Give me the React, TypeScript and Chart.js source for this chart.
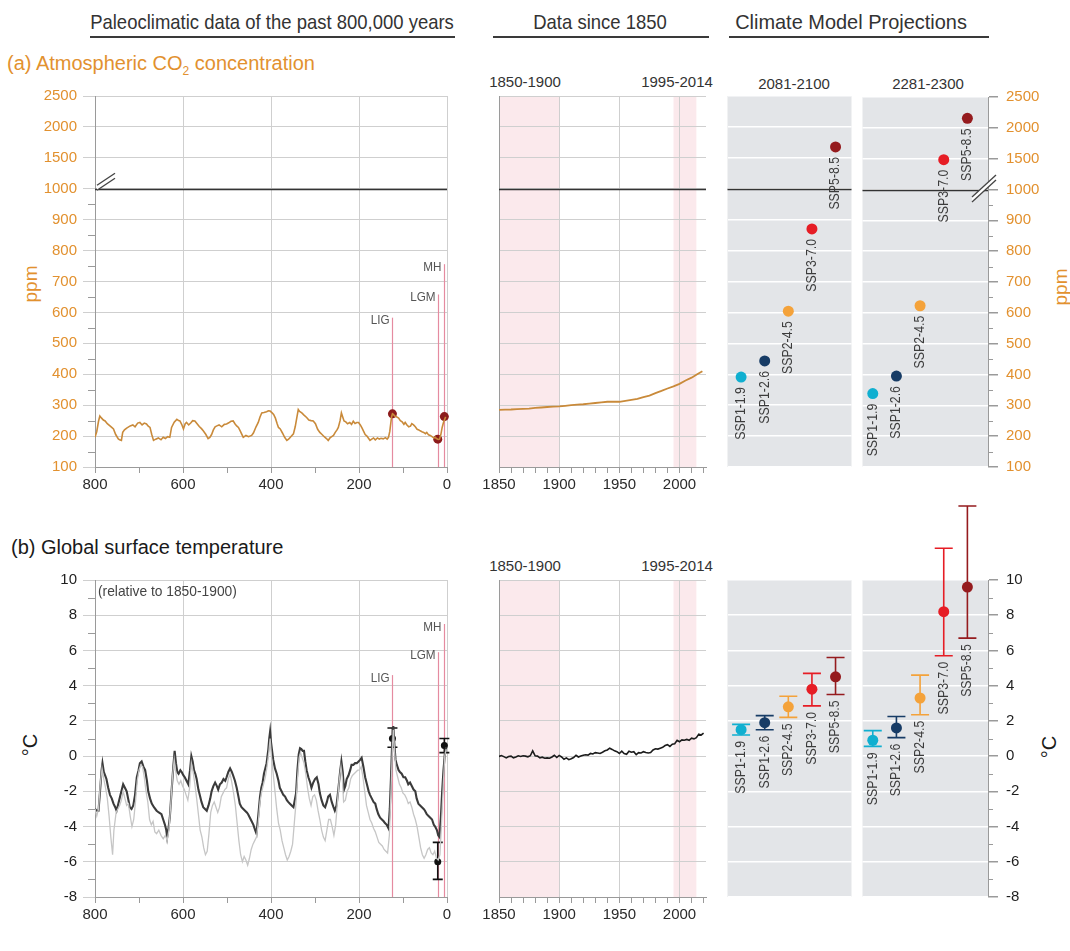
import React, { useEffect, useRef } from 'react';
import { Chart, registerables } from 'chart.js';

Chart.register(...registerables);

const FONT = '"Liberation Sans", Arial, Helvetica, sans-serif';
Chart.defaults.font.family = FONT;

/* ------------------------------------------------------------------ */
/* Values                                                              */
/* ------------------------------------------------------------------ */

// Atmospheric CO2 over the last 800 kyr: [thousand years before present, ppm]
const co2Paleo: [number, number][] = [
  [800, 196], [796, 215], [792, 248], [789, 265], [785, 258], [781, 252], [777, 249], [772, 240],
  [766, 233], [762, 228], [758, 223], [753, 205], [747, 191], [744, 188], [740, 186], [737, 212],
  [733, 220], [728, 226], [720, 233], [714, 236], [709, 230], [703, 242], [698, 244], [693, 236],
  [688, 242], [683, 239], [679, 232], [675, 228], [671, 205], [667, 186], [662, 190], [656, 194],
  [650, 188], [645, 196], [640, 192], [635, 198], [630, 196], [626, 228], [620, 245], [614, 254],
  [610, 250], [607, 249], [603, 238], [599, 223], [595, 240], [592, 244], [587, 236], [582, 243],
  [578, 250], [573, 249], [568, 240], [563, 231], [558, 224], [554, 217], [548, 205], [543, 192],
  [539, 196], [535, 205], [531, 220], [527, 230], [523, 233], [518, 236], [512, 230], [506, 238],
  [501, 239], [496, 243], [491, 248], [486, 249], [482, 240], [478, 233], [474, 228], [470, 217],
  [466, 205], [463, 196], [457, 202], [451, 198], [444, 202], [440, 210], [434, 230], [429, 244],
  [425, 262], [421, 275], [416, 276], [410, 279], [406, 282], [402, 281], [398, 276], [394, 270],
  [390, 258], [386, 240], [383, 228], [379, 223], [374, 210], [369, 196], [364, 186], [360, 190],
  [355, 198], [349, 207], [345, 230], [341, 262], [338, 286], [335, 280], [330, 275], [325, 268],
  [319, 260], [314, 252], [309, 250], [304, 249], [299, 240], [294, 222], [289, 212], [284, 205],
  [279, 198], [274, 192], [270, 186], [266, 194], [262, 198], [258, 202], [254, 212], [250, 220],
  [247, 228], [243, 250], [240, 275], [237, 262], [234, 249], [230, 246], [226, 240], [221, 244],
  [217, 238], [213, 248], [209, 241], [205, 244], [201, 244], [197, 236], [193, 226], [190, 217],
  [186, 205], [182, 200], [178, 192], [175, 186], [171, 190], [167, 194], [163, 188], [158, 194],
  [154, 190], [150, 193], [145, 191], [140, 195], [136, 190], [133, 196], [130, 215], [128, 239],
  [126, 262], [124, 272], [122, 270], [118, 264], [114, 262], [110, 258], [106, 250], [102, 246],
  [98, 238], [95, 244], [91, 236], [87, 230], [83, 232], [80, 240], [76, 236], [72, 230],
  [68, 222], [64, 220], [61, 217], [57, 214], [53, 212], [49, 208], [46, 212], [42, 204],
  [38, 202], [34, 198], [30, 194], [27, 196], [24, 192], [20, 189], [17, 190], [14, 205],
  [11, 228], [8, 244], [5, 255], [3, 262],
];

// Global surface temperature over the last 800 kyr, first reconstruction: [kyr BP, °C]
const tempPaleoA: [number, number][] = [
  [800, -3.0], [796, -3.1], [792, -3.1], [788, -1.8], [785, -0.8], [783, -0.4], [780, -0.9], [777, -1.1],
  [774, -1.3], [770, -1.8], [766, -2.2], [762, -2.4], [758, -2.7], [754, -2.9], [751, -3.1], [747, -2.7],
  [743, -2.3], [739, -1.9], [736, -1.6], [732, -1.8], [728, -2.0], [724, -2.5], [721, -2.9], [717, -3.0],
  [713, -2.8], [709, -2.2], [705, -1.2], [701, -0.8], [698, -0.4], [694, -0.3], [690, -0.6], [686, -0.8],
  [682, -1.4], [679, -2.0], [675, -2.4], [671, -2.7], [666, -2.9], [660, -3.1], [655, -3.2], [649, -3.3],
  [645, -3.6], [641, -3.9], [638, -4.2], [636, -4.6], [633, -4.1], [630, -3.5], [626, -2.0], [622, -0.6],
  [619, 0.3], [616, -0.4], [613, -0.9], [610, -1.0], [606, -0.8], [603, -0.9], [599, -1.1], [596, -1.2],
  [592, -1.4], [588, -1.6], [584, -0.8], [581, 0.0], [578, -0.3], [575, -0.8], [572, -1.0], [569, -1.3],
  [565, -1.9], [561, -2.3], [558, -2.6], [554, -2.9], [550, -3.0], [546, -3.1], [542, -2.8], [538, -2.4],
  [535, -2.0], [531, -1.7], [527, -1.5], [523, -1.7], [520, -1.9], [516, -1.6], [512, -1.5], [508, -1.3],
  [504, -1.4], [501, -1.2], [497, -0.9], [493, -0.7], [489, -0.9], [486, -1.1], [482, -1.4], [478, -1.8],
  [474, -2.3], [471, -2.7], [467, -2.9], [463, -3.0], [459, -3.1], [455, -3.2], [452, -3.3], [448, -3.5],
  [444, -3.7], [440, -3.9], [436, -4.2], [433, -4.4], [429, -3.4], [425, -2.3], [422, -1.8], [419, -1.5],
  [416, -1.0], [413, -0.7], [410, -0.4], [406, 0.4], [404, 1.0], [402, 1.4], [400, 0.8], [397, 0.2],
  [395, -0.2], [391, -0.7], [387, -1.0], [383, -1.4], [380, -1.8], [376, -2.0], [372, -2.2], [368, -2.3],
  [364, -2.5], [361, -2.6], [357, -2.7], [353, -2.8], [349, -2.9], [346, -2.5], [343, -2.1], [340, -0.8],
  [337, 0.1], [334, 0.45], [331, 0.4], [328, 0.3], [325, 0.3], [322, -0.3], [319, -0.8], [315, -1.2],
  [311, -1.5], [308, -1.8], [304, -1.5], [300, -1.3], [296, -1.2], [292, -1.6], [289, -2.1], [285, -2.5],
  [281, -2.8], [277, -2.9], [273, -2.6], [270, -2.3], [266, -2.2], [262, -2.6], [258, -2.9], [255, -3.1],
  [251, -2.8], [247, -1.9], [243, -0.9], [240, -0.3], [237, -0.9], [234, -1.9], [231, -1.7], [228, -1.3],
  [224, -1.1], [220, -0.8], [217, -0.5], [213, -0.5], [209, -0.4], [205, -0.4], [201, -0.3], [197, -0.2],
  [194, -0.1], [190, -0.6], [186, -1.2], [182, -1.6], [178, -2.0], [175, -2.2], [171, -2.4], [167, -2.6],
  [163, -2.7], [160, -3.0], [156, -3.3], [152, -3.5], [148, -3.6], [144, -3.7], [141, -3.8], [137, -3.9],
  [133, -4.1], [130, -3.0], [127, -1.0], [125, 0.5], [122, 1.7], [120, 0.8], [117, -0.2], [114, -0.5],
  [110, -0.8], [107, -0.9], [103, -1.0], [99, -1.2], [95, -1.2], [91, -1.4], [88, -1.6], [84, -1.5],
  [80, -1.7], [76, -1.9], [72, -2.0], [69, -2.4], [65, -2.7], [61, -2.8], [57, -2.9], [53, -3.0],
  [50, -3.1], [46, -3.3], [42, -3.4], [38, -3.5], [34, -3.6], [30, -3.9], [27, -4.0], [23, -4.2],
  [20, -4.5], [17, -4.6], [14, -3.5], [11, -2.0], [8, -0.8], [5, 0.1], [2, 0.5],
];

// Global surface temperature over the last 800 kyr, second reconstruction: [kyr BP, °C]
const tempPaleoB: [number, number][] = [
  [800, -3.0], [796, -3.4], [792, -3.0], [788, -1.6], [784, -0.7], [780, -1.3], [776, -1.8], [772, -2.4],
  [768, -3.4], [764, -4.6], [760, -5.6], [757, -4.2], [752, -3.2], [748, -3.0], [744, -2.8], [740, -2.5],
  [736, -2.0], [732, -2.4], [728, -2.8], [724, -2.7], [720, -3.4], [716, -4.0], [712, -3.6], [708, -2.6],
  [704, -1.4], [700, -0.8], [696, -0.5], [692, -0.6], [688, -1.2], [684, -2.0], [680, -2.6], [676, -3.6],
  [672, -3.9], [668, -3.7], [664, -4.3], [660, -4.4], [655, -4.2], [650, -4.5], [645, -4.7], [640, -4.5],
  [636, -4.8], [632, -4.2], [628, -2.8], [624, -1.2], [620, -0.2], [617, -0.8], [613, -1.4], [609, -1.6],
  [605, -1.4], [601, -1.7], [597, -1.9], [593, -2.2], [589, -2.5], [585, -1.8], [581, -0.4], [577, -0.9],
  [573, -1.6], [569, -2.4], [565, -3.3], [561, -4.2], [557, -4.6], [553, -5.2], [549, -5.6], [545, -5.4],
  [541, -4.4], [537, -3.2], [533, -2.8], [529, -2.6], [525, -2.9], [521, -3.2], [517, -2.9], [513, -2.3],
  [509, -2.1], [505, -1.9], [501, -1.8], [497, -1.3], [493, -1.0], [489, -1.5], [485, -2.1], [481, -2.8],
  [477, -3.8], [473, -4.8], [469, -5.6], [465, -6.0], [461, -5.7], [457, -5.9], [453, -6.2], [449, -5.8],
  [445, -5.3], [441, -5.0], [437, -4.8], [433, -4.6], [429, -3.8], [425, -2.6], [421, -2.0], [417, -1.6],
  [413, -1.2], [409, -0.6], [405, 0.2], [402, 1.0], [399, 0.0], [395, -1.0], [391, -2.0], [387, -3.0],
  [383, -3.8], [379, -4.2], [375, -4.8], [371, -5.2], [367, -5.6], [363, -5.9], [359, -5.7], [355, -5.4],
  [351, -5.0], [347, -3.8], [343, -2.6], [339, -1.0], [336, -0.1], [333, 0.2], [329, -0.1], [325, -0.4],
  [321, -1.0], [317, -1.8], [313, -2.4], [309, -2.8], [305, -2.3], [301, -2.2], [297, -2.5], [293, -3.1],
  [289, -3.6], [285, -4.2], [281, -4.6], [277, -4.8], [273, -4.2], [269, -3.6], [265, -3.6], [261, -4.0],
  [257, -4.5], [253, -3.9], [249, -2.6], [245, -1.4], [241, -0.6], [238, -1.2], [235, -2.6], [231, -2.5],
  [227, -2.0], [223, -1.8], [219, -1.3], [215, -1.1], [211, -1.0], [207, -0.9], [203, -0.8], [199, -0.8],
  [195, -0.6], [191, -1.2], [187, -2.0], [183, -2.8], [179, -3.2], [175, -3.6], [171, -3.8], [167, -4.1],
  [163, -4.3], [159, -4.6], [155, -4.9], [151, -5.0], [147, -5.1], [143, -5.3], [139, -5.4], [135, -5.5],
  [131, -4.5], [127, -1.8], [124, 0.5], [122, 1.5], [119, 0.2], [116, -0.8], [112, -1.2], [108, -1.6],
  [104, -1.8], [100, -2.1], [96, -2.2], [92, -2.4], [88, -2.7], [84, -2.6], [80, -2.9], [76, -3.3],
  [72, -3.6], [68, -4.0], [64, -4.6], [60, -5.2], [56, -5.6], [52, -5.8], [48, -5.6], [44, -5.3],
  [40, -5.2], [36, -5.5], [32, -5.6], [28, -5.4], [24, -5.8], [20, -5.9], [16, -5.6], [12, -3.6],
  [8, -1.4], [5, 0.0], [2, 0.4],
];

// Instrumental era CO2: [year, ppm]
const co2Modern: [number, number][] = [
  [1850, 285], [1855, 285.5], [1860, 286], [1865, 287], [1870, 288], [1875, 289], [1880, 291],
  [1885, 292.5], [1890, 294], [1895, 295], [1900, 296], [1905, 298], [1910, 300], [1915, 301.5],
  [1920, 303], [1925, 305], [1930, 307], [1935, 309], [1940, 311], [1945, 311], [1950, 311],
  [1955, 314], [1960, 317], [1965, 320], [1970, 326], [1975, 331], [1980, 339], [1985, 346],
  [1990, 354], [1995, 361], [2000, 369], [2005, 380], [2010, 389], [2015, 401], [2019, 410],
];

// Instrumental era surface temperature relative to 1850-1900: [year, °C]
const tempModern: [number, number][] = [
  [1850, -0.02], [1852, 0.03], [1854, -0.03], [1856, -0.1], [1858, -0.02], [1860, 0.0], [1862, -0.1],
  [1864, -0.05], [1866, 0.02], [1868, -0.02], [1870, 0.02], [1872, 0.0], [1874, -0.04], [1876, 0.02],
  [1878, 0.3], [1880, 0.02], [1882, 0.0], [1884, -0.1], [1886, -0.06], [1888, -0.12], [1890, -0.1],
  [1892, -0.12], [1894, -0.05], [1896, 0.05], [1898, -0.08], [1900, 0.04], [1902, -0.05], [1904, -0.18],
  [1906, -0.1], [1908, -0.2], [1910, -0.15], [1912, -0.08], [1914, 0.05], [1916, -0.05], [1918, 0.0],
  [1920, 0.05], [1922, 0.08], [1924, 0.06], [1926, 0.15], [1928, 0.12], [1930, 0.2], [1932, 0.18],
  [1934, 0.15], [1936, 0.22], [1938, 0.3], [1940, 0.35], [1942, 0.45], [1944, 0.38], [1946, 0.3],
  [1948, 0.25], [1950, 0.15], [1952, 0.28], [1954, 0.15], [1956, 0.1], [1958, 0.28], [1960, 0.22],
  [1962, 0.25], [1964, 0.08], [1966, 0.2], [1968, 0.18], [1970, 0.25], [1972, 0.2], [1974, 0.18],
  [1976, 0.2], [1978, 0.35], [1980, 0.42], [1982, 0.4], [1984, 0.45], [1986, 0.5], [1988, 0.6],
  [1990, 0.65], [1992, 0.55], [1994, 0.68], [1996, 0.7], [1998, 0.9], [2000, 0.82], [2002, 0.92],
  [2004, 0.9], [2006, 0.95], [2008, 0.9], [2010, 1.02], [2012, 0.98], [2014, 1.05], [2016, 1.25],
  [2018, 1.2], [2020, 1.3],
];

// Past reference periods
const paleoEvents = ['LIG', 'LGM', 'MH'];
const paleoEventKyr = [124, 21, 6];
const paleoEventCo2 = [272, 190, 263];
const paleoEventTemp = [1.0, -6.0, 0.6];
const paleoEventTempLow = [0.5, -7.0, 0.2];
const paleoEventTempHigh = [1.6, -4.9, 1.0];

// Scenario projections
const scenarios = ['SSP1-1.9', 'SSP1-2.6', 'SSP2-4.5', 'SSP3-7.0', 'SSP5-8.5'];
const co2By2100 = [391, 443, 604, 870, 1677];
const co2By2300 = [338, 395, 623, 1484, 2155];
const tempBy2100 = [1.5, 1.9, 2.8, 3.8, 4.5];
const tempBy2100Low = [1.2, 1.5, 2.2, 2.85, 3.5];
const tempBy2100High = [1.8, 2.3, 3.4, 4.7, 5.6];
const tempBy2300 = [0.9, 1.6, 3.3, 8.2, 9.6];
const tempBy2300Low = [0.55, 1.05, 2.35, 5.7, 6.7];
const tempBy2300High = [1.45, 2.25, 4.6, 11.8, 14.2];

// Axis ticks
const paleoTicks = [0, 100, 200, 300, 400, 500, 600, 700, 800];
const modernTicks = [1850, 1860, 1870, 1880, 1890, 1900, 1910, 1920, 1930, 1940, 1950, 1960, 1970, 1980, 1990, 2000, 2010, 2020];
const co2TickPpm = [100, 200, 300, 400, 500, 600, 700, 800, 900, 1000, 1500, 2000, 2500];
const co2MinorPpm = [150, 250, 350, 450, 550, 650, 750, 850, 950];
const tempTicks = [-8, -6, -4, -2, 0, 2, 4, 6, 8, 10];
const tempMinor = [-7, -5, -3, -1, 1, 3, 5, 7, 9];

/* ------------------------------------------------------------------ */
/* Styling                                                             */
/* ------------------------------------------------------------------ */

const GRID = '#cfcfcf';
const AXIS = '#9a9a9a';
const ORANGE = '#e2912f';
const INK = '#2a2a2a';
const PANEL_BG = '#e3e5e8';
const EVENT_LINE = '#e58ba0';
const EVENT_DOT = '#8c1b1b';
const CO2_LINE = '#c98a3a';
const SPAN_FILL = '#fbe9ec';
const SCENARIO_COLORS = ['#10afd0', '#173c66', '#f4a23a', '#e61d25', '#951b1e'];

// Heights up to which the reference-period markers are drawn
const eventTopCo2 = [583, 658, 756];
const eventTopTemp = [4.6, 5.9, 7.5];

// CO2 axis: linear up to 1000 ppm, compressed above
const co2Axis = (v: number) => (v <= 1000 ? v / 100 : 10 + (v - 1000) / 500);
const co2Inverse = (u: number) => (u <= 10 ? u * 100 : 1000 + (u - 10) * 500);

/* ------------------------------------------------------------------ */
/* Plugin for panel decorations                                        */
/* ------------------------------------------------------------------ */

type Decor = {
  fill?: string;
  spans?: { from: number; to: number }[];
  hline?: number;
  breakMark?: { side: 'left' | 'right'; dx: number; dy: number; hx: number; hy: number };
  minorY?: { values: number[]; len: number };
  events?: { x: number[]; top: number[]; names: string[] };
  errors?: { x: number[]; low: number[]; high: number[]; colors: string[]; cap: number };
  labels?: { x: number[]; below: number[]; names: string[]; gap: number };
};

function decor(cfg: Decor) {
  return {
    id: 'decor',
    beforeDraw(chart: any) {
      const { ctx, chartArea: a } = chart;
      const xs = chart.scales.x;
      ctx.save();
      if (cfg.fill) {
        ctx.fillStyle = cfg.fill;
        ctx.fillRect(a.left, a.top, a.right - a.left, a.bottom - a.top);
      }
      (cfg.spans || []).forEach((s) => {
        const x0 = xs.getPixelForValue(s.from);
        const x1 = xs.getPixelForValue(s.to);
        ctx.fillStyle = SPAN_FILL;
        ctx.fillRect(x0, a.top, x1 - x0, a.bottom - a.top);
      });
      ctx.restore();
    },
    beforeDatasetsDraw(chart: any) {
      const { ctx, chartArea: a } = chart;
      const xs = chart.scales.x;
      const ys = chart.scales.y;
      ctx.save();
      if (cfg.hline !== undefined) {
        const y = Math.round(ys.getPixelForValue(cfg.hline)) + 0.5;
        ctx.strokeStyle = '#333';
        ctx.lineWidth = 1.3;
        ctx.beginPath();
        ctx.moveTo(a.left, y);
        ctx.lineTo(a.right, y);
        ctx.stroke();
      }
      if (cfg.events) {
        const e = cfg.events;
        e.x.forEach((v, i) => {
          const x = Math.round(xs.getPixelForValue(v)) + 0.5;
          const yt = ys.getPixelForValue(e.top[i]);
          ctx.strokeStyle = EVENT_LINE;
          ctx.lineWidth = 1.2;
          ctx.beginPath();
          ctx.moveTo(x, a.bottom);
          ctx.lineTo(x, yt);
          ctx.stroke();
          ctx.save();
          ctx.translate(x - 3, yt + 3);
          ctx.scale(0.9, 1);
          ctx.font = `13px ${FONT}`;
          ctx.fillStyle = '#555';
          ctx.textAlign = 'right';
          ctx.textBaseline = 'middle';
          ctx.fillText(e.names[i], 0, 0);
          ctx.restore();
        });
      }
      if (cfg.errors) {
        const e = cfg.errors;
        e.x.forEach((v, i) => {
          const x = xs.getPixelForValue(v);
          const y0 = ys.getPixelForValue(e.low[i]);
          const y1 = ys.getPixelForValue(e.high[i]);
          ctx.strokeStyle = e.colors[i];
          ctx.lineWidth = 1.6;
          ctx.beginPath();
          ctx.moveTo(x, y0);
          ctx.lineTo(x, y1);
          ctx.moveTo(x - e.cap, y0);
          ctx.lineTo(x + e.cap, y0);
          ctx.moveTo(x - e.cap, y1);
          ctx.lineTo(x + e.cap, y1);
          ctx.stroke();
        });
      }
      ctx.restore();
    },
    afterDatasetsDraw(chart: any) {
      if (!cfg.labels) return;
      const { ctx } = chart;
      const xs = chart.scales.x;
      const ys = chart.scales.y;
      const l = cfg.labels;
      ctx.save();
      ctx.font = `14px ${FONT}`;
      ctx.fillStyle = '#3c3c3c';
      ctx.textAlign = 'right';
      ctx.textBaseline = 'middle';
      l.x.forEach((v, i) => {
        const x = xs.getPixelForValue(v);
        const y = ys.getPixelForValue(l.below[i]) + l.gap;
        ctx.save();
        ctx.translate(x, y);
        ctx.rotate(-Math.PI / 2);
        ctx.scale(0.88, 1);
        ctx.fillText(l.names[i], 0, 0);
        ctx.restore();
      });
      ctx.restore();
    },
    afterDraw(chart: any) {
      const { ctx, chartArea: a } = chart;
      const ys = chart.scales.y;
      ctx.save();
      if (cfg.minorY) {
        const right = ys.position === 'right';
        ctx.strokeStyle = AXIS;
        ctx.lineWidth = 1;
        ctx.beginPath();
        cfg.minorY.values.forEach((v) => {
          const y = Math.round(ys.getPixelForValue(v)) + 0.5;
          const x0 = right ? a.right : a.left - cfg.minorY!.len;
          ctx.moveTo(x0, y);
          ctx.lineTo(x0 + cfg.minorY!.len, y);
        });
        ctx.stroke();
      }
      if (cfg.breakMark) {
        const b = cfg.breakMark;
        const cx = (b.side === 'left' ? a.left : a.right) + b.dx;
        const cy = ys.getPixelForValue(co2Axis(1000)) + b.dy;
        ctx.fillStyle = '#ffffff';
        ctx.beginPath();
        ctx.moveTo(cx - b.hx, cy + b.hy + 2.5);
        ctx.lineTo(cx + b.hx, cy - b.hy + 2.5);
        ctx.lineTo(cx + b.hx, cy - b.hy - 2.5);
        ctx.lineTo(cx - b.hx, cy + b.hy - 2.5);
        ctx.closePath();
        ctx.fill();
        ctx.strokeStyle = '#444';
        ctx.lineWidth = 1.3;
        [-2.5, 2.5].forEach((off) => {
          ctx.beginPath();
          ctx.moveTo(cx - b.hx, cy + b.hy + off);
          ctx.lineTo(cx + b.hx, cy - b.hy + off);
          ctx.stroke();
        });
      }
      ctx.restore();
    },
  };
}

/* ------------------------------------------------------------------ */
/* Scales and datasets                                                 */
/* ------------------------------------------------------------------ */

type AxisKind = 'left' | 'plain' | 'panel' | 'right';
const AXIS_WIDTH: Record<AxisKind, number> = { left: 95, plain: 29, panel: 0, right: 82 };

function yScale(kind: AxisKind, min: number, max: number, ticks: number[], label: (v: number) => string, color: string) {
  const showLabels = kind === 'left' || kind === 'right';
  const onPanel = kind === 'panel' || kind === 'right';
  return {
    type: 'linear',
    position: kind === 'right' ? 'right' : 'left',
    min,
    max,
    afterBuildTicks: (s: any) => {
      s.ticks = ticks.map((value) => ({ value }));
    },
    afterFit: (s: any) => {
      s.width = AXIS_WIDTH[kind];
    },
    ticks: {
      display: showLabels,
      color,
      font: { size: 15 },
      padding: kind === 'right' ? 8 : 6,
      callback: (v: any) => label(Number(v)),
    },
    grid: {
      color: onPanel ? '#ffffff' : GRID,
      lineWidth: onPanel ? 1.5 : 1,
      drawTicks: showLabels,
      tickLength: kind === 'right' ? 10 : 12,
      tickColor: kind === 'right' ? AXIS : GRID,
    },
    border: { display: kind !== 'panel', color: AXIS },
  };
}

const co2Y = (kind: AxisKind) =>
  yScale(kind, 1, 13, co2TickPpm.map(co2Axis), (u) => String(Math.round(co2Inverse(u))), ORANGE);
const tempY = (kind: AxisKind) => yScale(kind, -8, 10, tempTicks, (v) => String(v), '#1e1e1e');

function timeX(ticks: number[], isMajor: (v: number) => boolean, min: number, max: number, reverse: boolean) {
  return {
    type: 'linear',
    min,
    max,
    reverse,
    afterBuildTicks: (s: any) => {
      s.ticks = ticks.map((value) => ({ value }));
    },
    afterFit: (s: any) => {
      s.height = 33;
    },
    ticks: {
      autoSkip: false,
      maxRotation: 0,
      color: INK,
      font: { size: 15 },
      padding: 3,
      callback: (v: any) => (isMajor(Number(v)) ? String(v) : ''),
    },
    grid: {
      color: (c: any) => (c.tick && isMajor(c.tick.value) ? GRID : 'rgba(0,0,0,0)'),
      tickColor: AXIS,
      tickLength: 6,
    },
    border: { color: AXIS },
  };
}

const paleoX = () => timeX(paleoTicks, (v) => v % 200 === 0, 0, 800, true);
const modernX = () => timeX(modernTicks, (v) => v % 50 === 0, 1850, 2022, false);
const slotX = (min: number, max: number) => ({ type: 'linear', min, max, display: false });

const lineSet = (data: { x: number; y: number }[], color: string, width: number) => ({
  data,
  showLine: true,
  borderColor: color,
  borderWidth: width,
  pointRadius: 0,
  tension: 0,
  fill: false,
});

const dotSet = (data: { x: number; y: number }[], colors: string | string[], radius: number) => ({
  data,
  showLine: false,
  pointRadius: radius,
  pointBackgroundColor: colors,
  pointBorderWidth: 0,
  borderColor: 'rgba(0,0,0,0)',
  clip: false,
});

function config(datasets: any[], scales: any, padding: any, plugin: any) {
  return {
    type: 'scatter',
    data: { datasets },
    options: {
      responsive: false,
      animation: false,
      devicePixelRatio: 1,
      events: [],
      layout: { padding },
      plugins: { legend: { display: false }, tooltip: { enabled: false } },
      scales,
    },
    plugins: [plugin],
  };
}

const slots = scenarios.map((_, i) => i + 1);

/* ---- panel (a): CO2 ---- */

const makeCo2Paleo = () =>
  config(
    [
      lineSet(co2Paleo.map(([k, p]) => ({ x: k, y: co2Axis(p) })), CO2_LINE, 1.6),
      dotSet(paleoEventKyr.map((k, i) => ({ x: k, y: co2Axis(paleoEventCo2[i]) })), EVENT_DOT, 4.5),
    ],
    { x: paleoX(), y: co2Y('left') },
    { top: 16, right: 13, left: 0, bottom: 0 },
    decor({
      hline: co2Axis(1000),
      breakMark: { side: 'left', dx: 11, dy: -7, hx: 9, hy: 6 },
      minorY: { values: co2MinorPpm.map(co2Axis), len: 7 },
      events: { x: paleoEventKyr, top: eventTopCo2.map(co2Axis), names: paleoEvents },
    })
  );

const makeCo2Modern = () =>
  config(
    [lineSet(co2Modern.map(([y, p]) => ({ x: y, y: co2Axis(p) })), CO2_LINE, 1.8)],
    { x: modernX(), y: co2Y('plain') },
    { top: 16, right: 14, left: 0, bottom: 0 },
    decor({ spans: [{ from: 1850, to: 1900 }, { from: 1995, to: 2014 }], hline: co2Axis(1000) })
  );

const makeCo2Proj = (values: number[], min: number, max: number, right: boolean) =>
  config(
    [dotSet(values.map((v, i) => ({ x: slots[i], y: co2Axis(v) })), SCENARIO_COLORS, 5.5)],
    { x: slotX(min, max), y: co2Y(right ? 'right' : 'panel') },
    { top: 16, right: right ? 0 : 5, left: 5, bottom: 33 },
    decor({
      fill: PANEL_BG,
      hline: co2Axis(1000),
      breakMark: right ? { side: 'right', dx: -4, dy: -1, hx: 12, hy: 11 } : undefined,
      minorY: right ? { values: co2MinorPpm.map(co2Axis), len: 5 } : undefined,
      labels: { x: slots, below: values.map(co2Axis), names: scenarios, gap: 10 },
    })
  );

/* ---- panel (b): temperature ---- */

const makeTempPaleo = () =>
  config(
    [
      lineSet(tempPaleoB.map(([k, t]) => ({ x: k, y: t })), '#c6c6c6', 1.3),
      lineSet(tempPaleoA.map(([k, t]) => ({ x: k, y: t })), '#3b3b3b', 2.1),
      dotSet(paleoEventKyr.map((k, i) => ({ x: k, y: paleoEventTemp[i] })), '#111111', 3.5),
    ],
    { x: paleoX(), y: tempY('left') },
    { top: 16, right: 13, left: 0, bottom: 0 },
    decor({
      minorY: { values: tempMinor, len: 7 },
      events: { x: paleoEventKyr, top: eventTopTemp, names: paleoEvents },
      errors: { x: paleoEventKyr, low: paleoEventTempLow, high: paleoEventTempHigh, colors: ['#111', '#111', '#111'], cap: 5 },
    })
  );

const makeTempModern = () =>
  config(
    [lineSet(tempModern.map(([y, t]) => ({ x: y, y: t })), '#1c1c1c', 1.6)],
    { x: modernX(), y: tempY('plain') },
    { top: 16, right: 14, left: 0, bottom: 0 },
    decor({ spans: [{ from: 1850, to: 1900 }, { from: 1995, to: 2014 }] })
  );

const makeTempProj = (mid: number[], low: number[], high: number[], min: number, max: number, right: boolean) =>
  config(
    [dotSet(mid.map((v, i) => ({ x: slots[i], y: v })), SCENARIO_COLORS, 5.5)],
    { x: slotX(min, max), y: tempY(right ? 'right' : 'panel') },
    { top: 90, right: right ? 0 : 5, left: 5, bottom: 33 },
    decor({
      fill: PANEL_BG,
      minorY: right ? { values: tempMinor, len: 5 } : undefined,
      errors: { x: slots, low, high, colors: SCENARIO_COLORS, cap: 9 },
      labels: { x: slots, below: low, names: scenarios, gap: 6 },
    })
  );

/* ------------------------------------------------------------------ */
/* Components                                                          */
/* ------------------------------------------------------------------ */

type Rect = { x: number; y: number; w: number; h: number };

function ChartCanvas({ rect, make }: { rect: Rect; make: () => any }) {
  const ref = useRef<HTMLCanvasElement | null>(null);
  useEffect(() => {
    const chart = new Chart(ref.current as HTMLCanvasElement, make());
    return () => chart.destroy();
  }, []);
  return (
    <canvas
      ref={ref}
      width={rect.w}
      height={rect.h}
      style={{ position: 'absolute', left: rect.x, top: rect.y, width: rect.w, height: rect.h }}
    />
  );
}

type TxtProps = {
  x: number;
  y: number;
  size: number;
  color?: string;
  anchor?: 'left' | 'center';
  sx?: number;
  rotate?: boolean;
  children: React.ReactNode;
};

function Txt({ x, y, size, color = '#333', anchor = 'center', sx = 1, rotate = false, children }: TxtProps) {
  const transform = rotate
    ? 'translate(-50%, -50%) rotate(-90deg)'
    : anchor === 'center'
    ? `translate(-50%, -50%) scaleX(${sx})`
    : `translate(0, -50%) scaleX(${sx})`;
  return (
    <div
      style={{
        position: 'absolute',
        left: x,
        top: y,
        fontFamily: FONT,
        fontSize: size,
        lineHeight: 1,
        color,
        whiteSpace: 'nowrap',
        transform,
        transformOrigin: anchor === 'left' && !rotate ? 'left center' : 'center center',
      }}
    >
      {children}
    </div>
  );
}

const Rule = ({ x, y, w }: { x: number; y: number; w: number }) => (
  <div style={{ position: 'absolute', left: x, top: y, width: w, height: 2, background: '#3a3a3a' }} />
);

export default function App() {
  return (
    <div style={{ position: 'absolute', left: 0, top: 0, width: 1070, height: 951, background: '#fff', overflow: 'hidden' }}>
      {/* column headers */}
      <Txt x={272} y={21} size={21} sx={0.88}>Paleoclimatic data of the past 800,000 years</Txt>
      <Txt x={600} y={21} size={21} sx={0.88}>Data since 1850</Txt>
      <Txt x={851} y={21} size={21} sx={0.95}>Climate Model Projections</Txt>
      <Rule x={90} y={36} w={365} />
      <Rule x={493} y={36} w={216} />
      <Rule x={729} y={36} w={260} />

      {/* panel (a) */}
      <Txt x={7} y={63} size={20} anchor="left" color={ORANGE}>
        (a) Atmospheric CO<span style={{ fontSize: '0.6em', position: 'relative', top: '0.45em' }}>2</span> concentration
      </Txt>
      <Txt x={525} y={81} size={15}>1850-1900</Txt>
      <Txt x={677} y={81} size={15}>1995-2014</Txt>
      <Txt x={794} y={83} size={15}>2081-2100</Txt>
      <Txt x={928} y={83} size={15}>2281-2300</Txt>
      <Txt x={30} y={284} size={19} color={ORANGE} rotate>ppm</Txt>
      <Txt x={1060} y={287} size={19} color={ORANGE} rotate>ppm</Txt>

      <ChartCanvas rect={{ x: 0, y: 80, w: 460, h: 420 }} make={makeCo2Paleo} />
      <ChartCanvas rect={{ x: 470, y: 80, w: 250, h: 420 }} make={makeCo2Modern} />
      <ChartCanvas rect={{ x: 722, y: 80, w: 135, h: 420 }} make={() => makeCo2Proj(co2By2100, 0.424, 5.676, false)} />
      <ChartCanvas rect={{ x: 857, y: 80, w: 213, h: 420 }} make={() => makeCo2Proj(co2By2300, 0.566, 5.871, true)} />

      {/* panel (b) */}
      <Txt x={11} y={547} size={20} anchor="left" color="#1a1a1a">(b) Global surface temperature</Txt>
      <Txt x={525} y={565} size={15}>1850-1900</Txt>
      <Txt x={677} y={565} size={15}>1995-2014</Txt>
      <Txt x={30} y={745} size={20} color="#1a1a1a" rotate>°C</Txt>
      <Txt x={1049} y={747} size={20} color="#1a1a1a" rotate>°C</Txt>

      <ChartCanvas rect={{ x: 0, y: 564, w: 460, h: 366 }} make={makeTempPaleo} />
      <ChartCanvas rect={{ x: 470, y: 564, w: 250, h: 366 }} make={makeTempModern} />
      <ChartCanvas
        rect={{ x: 722, y: 490, w: 135, h: 440 }}
        make={() => makeTempProj(tempBy2100, tempBy2100Low, tempBy2100High, 0.424, 5.676, false)}
      />
      <ChartCanvas
        rect={{ x: 857, y: 490, w: 213, h: 440 }}
        make={() => makeTempProj(tempBy2300, tempBy2300Low, tempBy2300High, 0.566, 5.871, true)}
      />
      <Txt x={98} y={590} size={15} anchor="left" color="#444" sx={0.92}>(relative to 1850-1900)</Txt>
    </div>
  );
}
